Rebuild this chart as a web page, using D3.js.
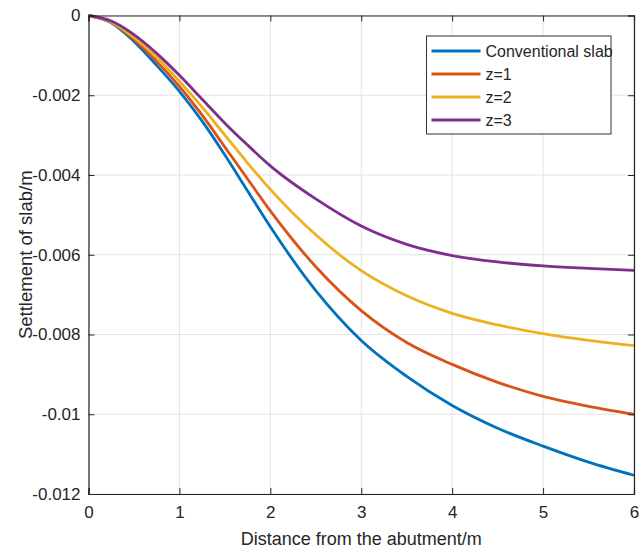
<!DOCTYPE html>
<html>
<head>
<meta charset="utf-8">
<script src="https://cdn.jsdelivr.net/npm/d3@7"></script>
<style>
  body { margin: 0; background: #fff; }
  text { font-family: "Liberation Sans", Arial, sans-serif; fill: #262626; }
</style>
</head>
<body>
<div id="chart"></div>
<script>
// distance from the abutment (m)
var dist = [0, 0.25, 0.5, 0.75, 1, 1.25, 1.5, 1.75, 2, 2.5, 3, 3.5, 4, 4.5, 5, 5.5, 6]

// settlement (m)
var conventional = [0, -0.00018, -0.00065, -0.00125, -0.0019, -0.00265, -0.0035, -0.0044, -0.0053, -0.0069, -0.00815, -0.00905, -0.00978, -0.01035, -0.0108, -0.0112, -0.01153]
var z1 = [0, -0.00017, -0.0006, -0.00115, -0.00178, -0.0025, -0.0033, -0.0041, -0.0049, -0.0063, -0.0074, -0.0082, -0.00875, -0.0092, -0.00955, -0.0098, -0.0100]
var z2 = [0, -0.00016, -0.00055, -0.00105, -0.00165, -0.0023, -0.0030, -0.0037, -0.00436, -0.0055, -0.0064, -0.00703, -0.00747, -0.00776, -0.00798, -0.00815, -0.00828]
var z3 = [0, -0.00014, -0.00048, -0.00095, -0.0015, -0.0021, -0.0027, -0.00325, -0.00377, -0.0046, -0.00528, -0.00574, -0.00602, -0.00618, -0.00628, -0.00634, -0.00639]

var seriesNames = ["Conventional slab", "z=1", "z=2", "z=3"]
var seriesColors = ["#0072BD", "#D95319", "#EDB120", "#7E2F8E"]

var xTicks = [0, 1, 2, 3, 4, 5, 6]
var yTicks = [0, -0.002, -0.004, -0.006, -0.008, -0.01, -0.012]

var margin = {top: 15.5, right: 7, bottom: 55, left: 88.5},
    width = 641 - margin.left - margin.right,
    height = 549 - margin.top - margin.bottom;

var svg = d3.select("#chart")
  .append("svg")
    .attr("width", 641)
    .attr("height", 549)
  .append("g")
    .attr("transform", "translate(" + margin.left + "," + margin.top + ")");

var x = d3.scaleLinear().domain([0, 6]).range([0, width]);
var y = d3.scaleLinear().domain([-0.012, 0]).range([height, 0]);

var fmt = function(d) { return String(+d.toFixed(3)) }

// grid
svg.append("g")
  .selectAll("line")
  .data(xTicks)
  .enter().append("line")
    .attr("x1", function(d) { return x(d) }).attr("x2", function(d) { return x(d) })
    .attr("y1", 0).attr("y2", height)
    .attr("stroke", "#e3e3e3").attr("stroke-width", 1)
svg.append("g")
  .selectAll("line")
  .data(yTicks)
  .enter().append("line")
    .attr("y1", function(d) { return y(d) }).attr("y2", function(d) { return y(d) })
    .attr("x1", 0).attr("x2", width)
    .attr("stroke", "#e3e3e3").attr("stroke-width", 1)

// curves
var allSeries = [conventional, z1, z2, z3]
var line = d3.line()
  .x(function(d, i) { return x(dist[i]) })
  .y(function(d) { return y(d) })
  .curve(d3.curveMonotoneX)

svg.append("g")
  .selectAll("path")
  .data(allSeries)
  .enter().append("path")
    .attr("d", line)
    .attr("fill", "none")
    .attr("stroke", function(d, i) { return seriesColors[i] })
    .attr("stroke-width", 2.8)

// axes (box with ticks on all sides, MATLAB style)
svg.append("g")
  .attr("transform", "translate(0," + height + ")")
  .call(d3.axisBottom(x).tickValues(xTicks).tickSize(-6).tickPadding(12).tickFormat(fmt))
svg.append("g")
  .call(d3.axisTop(x).tickValues(xTicks).tickSize(-6).tickFormat(""))
svg.append("g")
  .call(d3.axisLeft(y).tickValues(yTicks).tickSize(-6).tickPadding(8).tickFormat(fmt))
svg.append("g")
  .attr("transform", "translate(" + width + ",0)")
  .call(d3.axisRight(y).tickValues(yTicks).tickSize(-6).tickFormat(""))

svg.selectAll(".domain").attr("stroke", "#262626").attr("stroke-width", 1.2)
svg.selectAll(".tick line").attr("stroke", "#262626")
svg.selectAll(".tick text")
  .style("font-size", "17px")
  .attr("fill", "#262626")

// axis labels
svg.append("text")
  .attr("text-anchor", "middle")
  .attr("x", width / 2)
  .attr("y", height + 51)
  .style("font-size", "18px")
  .text("Distance from the abutment/m")

svg.append("text")
  .attr("text-anchor", "middle")
  .attr("transform", "rotate(-90)")
  .attr("x", -height / 2)
  .attr("y", -margin.left + 32)
  .style("font-size", "18.5px")
  .text("Settlement of slab/m")

// legend
var legend = svg.append("g")
  .attr("transform", "translate(" + (426.5 - margin.left) + "," + (36 - margin.top) + ")")
legend.append("rect")
  .attr("width", 184.5).attr("height", 98)
  .attr("fill", "#fff").attr("stroke", "#333").attr("stroke-width", 1)
var items = legend.selectAll(".item")
  .data(seriesNames)
  .enter().append("g")
    .attr("transform", function(d, i) { return "translate(0," + (15 + i * 23) + ")" })
items.append("line")
  .attr("x1", 5).attr("x2", 54)
  .attr("stroke", function(d, i) { return seriesColors[i] })
  .attr("stroke-width", 2.8)
items.append("text")
  .attr("x", 59).attr("dy", "0.35em")
  .style("font-size", "16px")
  .text(function(d) { return d })
</script>
</body>
</html>
